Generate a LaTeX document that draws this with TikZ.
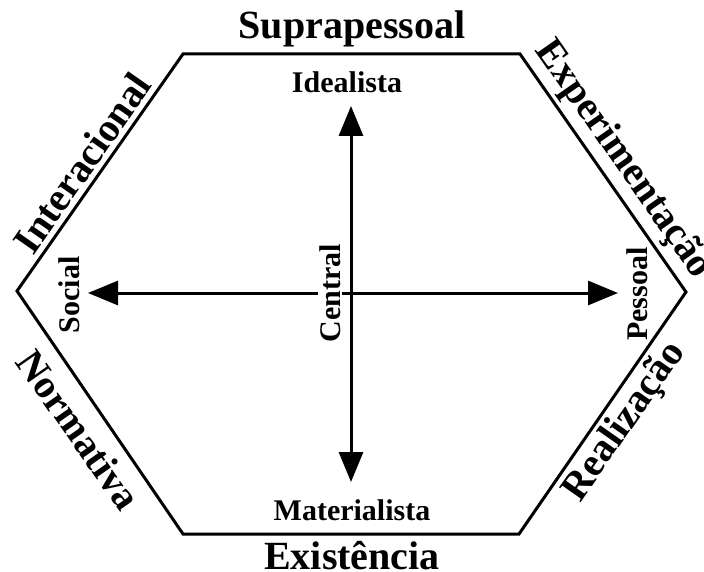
\documentclass[tikz,border=0pt]{standalone}
\usepackage{fontspec}
\setmainfont{Liberation Serif}
\usetikzlibrary{arrows.meta}
\begin{document}
\begin{tikzpicture}[x=1pt,y=-1pt,
  hexedge/.style={line width=3pt, line join=miter},
  axisline/.style={line width=3pt, {Triangle[length=30pt,width=24pt]}-{Triangle[length=30pt,width=24pt]}},
  biglabel/.style={font=\fontsize{40}{40}\selectfont\bfseries, inner sep=0pt},
  smalllabel/.style={font=\fontsize{30}{30}\selectfont\bfseries, inner sep=0pt}]
\useasboundingbox (0,0) rectangle (704,572);
% hexagon
\coordinate (h1) at (183,54);
\coordinate (h2) at (520,54);
\coordinate (h3) at (686,292);
\coordinate (h4) at (519,534);
\coordinate (h5) at (183,534);
\coordinate (h6) at (17,291);
\draw[hexedge] (h1) -- (h2) -- (h3) -- (h4) -- (h5) -- (h6) -- cycle;
% axis ends
\coordinate (axl) at (88,293);
\coordinate (axr) at (618,293);
\coordinate (axt) at (351,106);
\coordinate (axb) at (351,482);
\draw[axisline] (axl) -- (axr);
\node[smalllabel, rotate=90, fill=white, inner sep=1pt] (central) at (330,293) {Central};
\draw[axisline] (axb) -- (axt);
% outer labels
\node[biglabel] (supra) at (352,29) {Suprapessoal};
\node[biglabel] (exist) at (352,556) {Existência};
\node[biglabel, rotate=55] (inter) at (82,163) {Interacional};
\node[biglabel, rotate=-55] (exper) at (623,160) {Experimentação};
\node[biglabel, rotate=-55] (norm) at (79,430) {Normativa};
\node[biglabel, rotate=55] (real) at (625,422) {Realização};
% inner labels
\node[smalllabel] (ideal) at (347,82) {Idealista};
\node[smalllabel] (mater) at (352,510) {Materialista};
\node[smalllabel, rotate=90] (social) at (69,295) {Social};
\node[smalllabel, rotate=90] (pess) at (637,294) {Pessoal};
\end{tikzpicture}
\end{document}
